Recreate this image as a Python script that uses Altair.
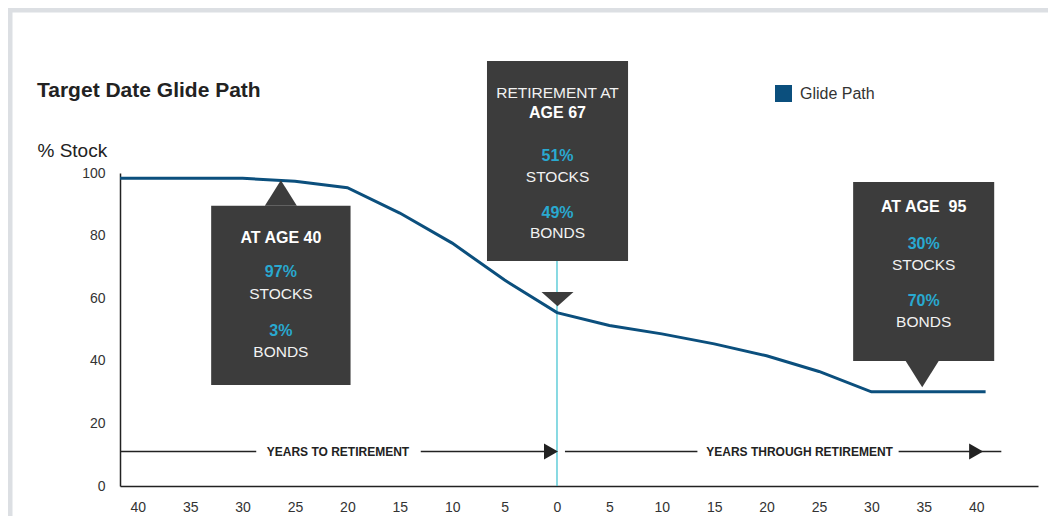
import altair as alt
import pandas as pd

FONT = "Liberation Sans"
LINE = "#0b4f7d"
BOX = "#3c3c3c"
CYAN = "#29a9d0"
TEAL = "#3bc0cf"
AXIS = "#222222"

# ---- data -----------------------------------------------------------------
# negative = years to retirement, positive = years through retirement
line_years = [-41.7, -30, -25, -20, -15, -10, -5, 0, 5, 10, 15, 20, 25, 30, 35, 40.9]
line_stock = [98.3, 98.3, 97.4, 95.3, 87.2, 77.6, 65.8, 55.4, 51.3, 48.6, 45.4, 41.6, 36.6, 30.1, 30.1, 30.1]
x_ticks = [-40, -35, -30, -25, -20, -15, -10, -5, 0, 5, 10, 15, 20, 25, 30, 35, 40]
y_ticks = [0, 20, 40, 60, 80, 100]

# annotation callout boxes (data units)
box_x1 = [-33.0, -6.68, 28.26]
box_x2 = [-19.7, 6.78, 41.72]
box_y1 = [32.3, 71.9, 39.9]
box_y2 = [89.5, 135.8, 97.1]

# text lines inside callouts: (years, stock, text)
white_bold = [(-26.35, 79.2, "AT AGE 40"), (0.05, 119.2, "AGE 67"), (34.99, 89.1, "AT AGE\u00a0 95")]
white_reg = [(0.05, 125.6, "RETIREMENT AT"),
             (-26.35, 61.3, "STOCKS"), (-26.35, 42.8, "BONDS"),
             (0.05, 98.7, "STOCKS"), (0.05, 80.8, "BONDS"),
             (34.99, 70.6, "STOCKS"), (34.99, 52.4, "BONDS")]
cyan_bold = [(-26.35, 68.4, "97%"), (-26.35, 49.5, "3%"),
             (0.05, 105.4, "51%"), (0.05, 87.2, "49%"),
             (34.99, 77.3, "30%"), (34.99, 59.1, "70%")]

# callout pointers: base-centre anchor, svg path shape, size
ptr_years = [-26.35, 0.05, 34.85]
ptr_stock = [89.5, 62.0, 39.9]
ptr_shape = ["M-1,0L1,0L0,-1.6Z", "M-1,0L1,0L0,0.9Z", "M-1,0L1,0L0,1.58Z"]
ptr_size = [1024, 1024, 1089]

# arrows along the bottom
arrow_level = 11
seg_x1 = [-41.7, -13.0, 0.76, 32.6]
seg_x2 = [-28.7, -1.0, 13.4, 42.4]
head_years = [-1.24, 39.33]
arrow_labels = ["YEARS TO RETIREMENT", "YEARS THROUGH RETIREMENT"]
arrow_label_years = [-20.9, 23.15]

retire_line_top = 71.9

# ---- encodings --------------------------------------------------------------
xenc = alt.X("years:Q",
             scale=alt.Scale(domain=[-41.7, 45.9], nice=False, zero=False),
             axis=alt.Axis(values=x_ticks, labelExpr="'' + abs(datum.value)", title=None,
                           tickSize=0, labelPadding=14, labelFontSize=14, labelFont=FONT,
                           labelColor="#333333", grid=False, domainColor=AXIS, domainWidth=1.5))
yenc = alt.Y("stock:Q",
             scale=alt.Scale(domain=[0, 100], nice=False),
             axis=alt.Axis(values=y_ticks, title="% Stock", titleAngle=0, titleX=-83, titleY=-17,
                           titleAlign="left", titleBaseline="alphabetic", titleFontSize=19,
                           titleFont=FONT, titleFontWeight="normal", titleColor="#222222",
                           labelFontSize=14, labelFont=FONT, labelColor="#333333",
                           tickSize=0, labelPadding=15, grid=False, domainColor=AXIS, domainWidth=1.5))

# ---- layers -----------------------------------------------------------------
frame = alt.Chart(pd.DataFrame({"k": [0]})).mark_rect(
    fill=None, stroke="#dcdfe3", strokeWidth=4.5
).encode(x=alt.value(-109.75), x2=alt.value(1100), y=alt.value(-162.75), y2=alt.value(600))

retire = alt.Chart(pd.DataFrame({"years": [0], "stock": [0], "stock2": [retire_line_top]})).mark_rule(
    color=TEAL, strokeWidth=1.2
).encode(x=xenc, y=yenc, y2="stock2:Q")

segs = alt.Chart(pd.DataFrame({"years": seg_x1, "years2": seg_x2,
                               "stock": [arrow_level] * len(seg_x1)})).mark_rule(
    color=AXIS, strokeWidth=1.5
).encode(x=xenc, x2="years2:Q", y=yenc)

heads = alt.Chart(pd.DataFrame({"years": head_years, "stock": [arrow_level] * len(head_years)})).mark_point(
    shape="M0,-1L0,1L1.75,0Z", size=256, filled=True, fill=AXIS, strokeWidth=0, opacity=1
).encode(x=xenc, y=yenc)

alabels = alt.Chart(pd.DataFrame({"years": arrow_label_years, "stock": [arrow_level] * 2,
                                  "t": arrow_labels})).mark_text(
    font=FONT, fontSize=12, fontWeight="bold", color=AXIS, baseline="middle", align="center"
).encode(x=xenc, y=yenc, text="t:N")

glide = alt.Chart(pd.DataFrame({"years": line_years, "stock": line_stock,
                                "series": ["Glide Path"] * len(line_years)})).mark_line(
    strokeWidth=3
).encode(
    x=xenc, y=yenc,
    color=alt.Color("series:N", scale=alt.Scale(range=[LINE]),
                    legend=alt.Legend(title=None, orient="none", legendX=655, legendY=-88,
                                      symbolType="square", symbolSize=289, symbolFillColor=LINE,
                                      symbolStrokeColor=LINE, symbolStrokeWidth=0,
                                      labelFontSize=16, labelFont=FONT, labelColor="#333333",
                                      labelOffset=8, padding=0))
)

boxes = alt.Chart(pd.DataFrame({"years": box_x1, "years2": box_x2,
                                "stock": box_y1, "stock2": box_y2})).mark_rect(
    fill=BOX
).encode(x=xenc, x2="years2:Q", y=yenc, y2="stock2:Q")

pointers = alt.Chart(pd.DataFrame({"years": ptr_years, "stock": ptr_stock,
                                   "shape": ptr_shape, "size": ptr_size})).mark_point(
    filled=True, fill=BOX, strokeWidth=0, opacity=1
).encode(x=xenc, y=yenc, shape=alt.Shape("shape:N", scale=None),
         size=alt.Size("size:Q", scale=None))


def text_layer(rows, color, weight, size):
    df = pd.DataFrame(rows, columns=["years", "stock", "t"])
    return alt.Chart(df).mark_text(
        font=FONT, fontSize=size, fontWeight=weight, color=color, baseline="middle", align="center"
    ).encode(x=xenc, y=yenc, text="t:N")


t_wb = text_layer(white_bold, "#ffffff", "bold", 16)
t_wr = text_layer(white_reg, "#f2f2f2", "normal", 15.5)
t_cb = text_layer(cyan_bold, CYAN, "bold", 16)

title = alt.Chart(pd.DataFrame({"t": ["Target Date Glide Path"]})).mark_text(
    font=FONT, fontSize=21, fontWeight="bold", color="#222222", align="left", baseline="alphabetic"
).encode(x=alt.value(-83), y=alt.value(-76), text="t:N")

chart = alt.layer(
    frame, retire, segs, heads, alabels, glide, boxes, pointers, t_wb, t_wr, t_cb, title
).properties(
    width=918, height=313,
    autosize=alt.AutoSizeParams(type="none"),
    padding={"left": 112, "top": 165, "right": 10, "bottom": 30},
    background="white",
).configure_view(stroke=None)

chart.save("out.html", embed_options={"renderer": "svg", "actions": False})
